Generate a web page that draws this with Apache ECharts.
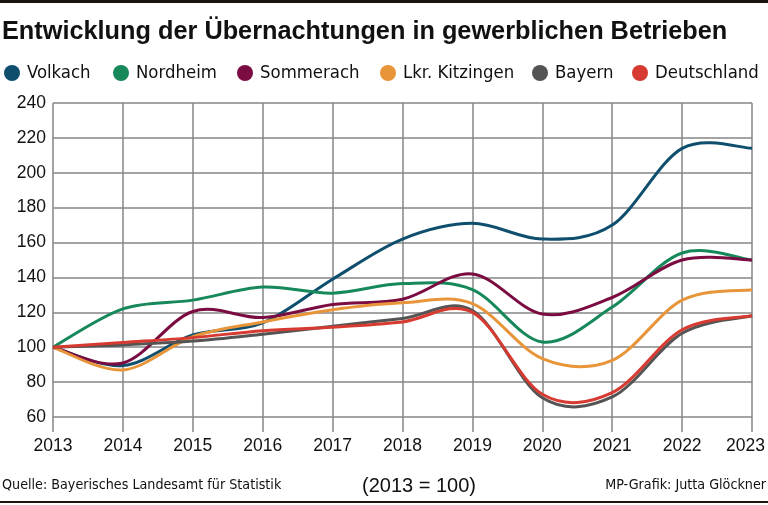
<!DOCTYPE html>
<html>
<head>
<meta charset="utf-8">
<script src="https://cdn.jsdelivr.net/npm/echarts@6/dist/echarts.min.js"></script>
<style>
  html, body { margin: 0; padding: 0; background: #fff; }
  #chart { width: 768px; height: 505px; }
</style>
</head>
<body>
<div id="chart"></div>
<script>
// Index der Übernachtungen (2013 = 100)
const years = ['2013', '2014', '2015', '2016', '2017', '2018', '2019', '2020', '2021', '2022', '2023'];
const volkach     = [100, 89.5, 107, 114, 139, 162, 171, 162, 170, 214, 214];
const nordheim    = [100, 122, 127, 134.5, 131, 136.5, 133, 103, 123, 154, 150];
const sommerach   = [100, 91, 120.5, 117, 124.5, 127.5, 142, 119, 128.5, 150, 150];
const kitzingen   = [100, 87, 106, 114.5, 121.5, 125.5, 125, 93.5, 92.5, 127, 133];
const bayern      = [100, 101.3, 103.5, 107.5, 112, 116.5, 121, 71, 71.5, 108, 118];
const deutschland = [100, 102.7, 105.5, 109.5, 111.5, 114.5, 120, 73, 74, 110, 118];

const yTicks = { min: 60, max: 240, step: 20 };

const names  = ['Volkach', 'Nordheim', 'Sommerach', 'Lkr. Kitzingen', 'Bayern', 'Deutschland'];
const colors = ['#0f4e6d', '#16885a', '#7b0c42', '#e8953a', '#545454', '#d63a30'];
const values = [volkach, nordheim, sommerach, kitzingen, bayern, deutschland];
const legendLeft = [4, 113, 237, 380, 532, 632];

// schmale Schrift suchen, falls vorhanden
const ctx = document.createElement('canvas').getContext('2d');
function hasFont(f) {
  const s = 'abcdefghijklmnopqrstuvwxyzABCDEF0123456789';
  return ['monospace', 'serif'].some(base => {
    ctx.font = '72px ' + base;
    const w0 = ctx.measureText(s).width;
    ctx.font = '72px "' + f + '", ' + base;
    return ctx.measureText(s).width !== w0;
  });
}
const narrowName = ['Liberation Sans Narrow', 'DejaVu Sans Condensed', 'Roboto Condensed'].find(hasFont) || 'Roboto';
const narrow = '"' + narrowName + '", sans-serif';
const regular = '"Liberation Sans", Arial, sans-serif';

// Schriftgröße so wählen, dass der Text die Breite aus dem Original hat
function fitSize(text, family, weight, width) {
  ctx.font = weight + ' 100px ' + family;
  return Math.round(100 * width / ctx.measureText(text).width * 10) / 10;
}
const legendSize = fitSize('Deutschland', narrow, 'normal', 104);
const footSize = fitSize('Quelle: Bayerisches Landesamt für Statistik', narrow, 'normal', 280);

const gridColor = '#868686';

const chart = echarts.init(document.getElementById('chart'), null, { renderer: 'canvas' });

// Spline wie im Original (Catmull-Rom durch die Jahreswerte)
function splinePath(pts) {
  let d = 'M' + pts[0][0] + ' ' + pts[0][1];
  for (let i = 0; i < pts.length - 1; i++) {
    const p0 = pts[Math.max(i - 1, 0)], p1 = pts[i], p2 = pts[i + 1], p3 = pts[Math.min(i + 2, pts.length - 1)];
    const c1x = p1[0] + (p2[0] - p0[0]) / 6, c1y = p1[1] + (p2[1] - p0[1]) / 6;
    const c2x = p2[0] - (p3[0] - p1[0]) / 6, c2y = p2[1] - (p3[1] - p1[1]) / 6;
    d += ' C' + c1x + ' ' + c1y + ' ' + c2x + ' ' + c2y + ' ' + p2[0] + ' ' + p2[1];
  }
  return d;
}

const option = {
  animation: false,
  backgroundColor: '#fff',
  title: {
    text: 'Entwicklung der Übernachtungen in gewerblichen Betrieben',
    left: 2,
    top: 20,
    padding: 0,
    textStyle: { fontFamily: regular, fontWeight: 'bold', fontSize: 25.3, color: '#111' }
  },
  legend: names.map((n, i) => ({
    data: [n],
    left: legendLeft[i],
    top: 64,
    padding: 0,
    icon: 'circle',
    itemWidth: 16,
    itemHeight: 16,
    selectedMode: false,
    textStyle: { fontFamily: narrow, fontSize: legendSize, color: '#111', padding: [0, 0, 0, 2] }
  })),
  grid: { left: 53, right: 14, top: 103, bottom: 88, containLabel: false },
  xAxis: {
    type: 'category',
    data: years,
    boundaryGap: false,
    axisLine: { show: false },
    axisTick: { show: true, interval: 0, length: 15, inside: false, lineStyle: { color: gridColor, width: 1.5 } },
    splitLine: { show: true, interval: 0, lineStyle: { color: gridColor, width: 1.5 } },
    axisLabel: {
      interval: 0,
      margin: 20,
      fontFamily: regular,
      fontSize: 17.5,
      color: '#111',
      formatter: v => v === '2023' ? '{last|2023}' : v,
      rich: { last: { fontFamily: regular, fontSize: 17.5, color: '#111', padding: [0, 13, 0, 0] } }
    }
  },
  yAxis: {
    type: 'value',
    min: yTicks.min,
    max: yTicks.max,
    interval: yTicks.step,
    axisLine: { show: false },
    axisTick: { show: false },
    splitLine: { show: true, lineStyle: { color: gridColor, width: 1.5 } },
    axisLabel: { margin: 7, fontFamily: regular, fontSize: 17.5, color: '#111' }
  },
  series: names.map((n, i) => ({
    name: n,
    type: 'custom',
    coordinateSystem: 'cartesian2d',
    data: [[0, values[i][0]]],
    itemStyle: { color: colors[i] },
    z: 2 + i,
    renderItem: (params, api) => {
      const pts = values[i].map((v, k) => api.coord([k, v]));
      return {
        type: 'path',
        shape: { pathData: splinePath(pts) },
        style: { fill: 'none', stroke: colors[i], lineWidth: 3 }
      };
    }
  })),
  graphic: [
    { type: 'rect', left: 0, top: 0, shape: { width: 768, height: 3 }, style: { fill: '#1b130c' } },
    { type: 'rect', left: 0, top: 501, shape: { width: 768, height: 2 }, style: { fill: '#1b130c' } },
    {
      type: 'text', left: 2, top: 478,
      style: { text: 'Quelle: Bayerisches Landesamt für Statistik', font: footSize + 'px ' + narrow, fill: '#111' }
    },
    {
      type: 'text', left: 362, top: 476,
      style: { text: '(2013 = 100)', font: '20px ' + regular, fill: '#111' }
    },
    {
      type: 'text', right: 2, top: 478,
      style: { text: 'MP-Grafik: Jutta Glöckner', font: footSize + 'px ' + narrow, fill: '#111' }
    }
  ]
};

chart.setOption(option);
</script>
</body>
</html>
